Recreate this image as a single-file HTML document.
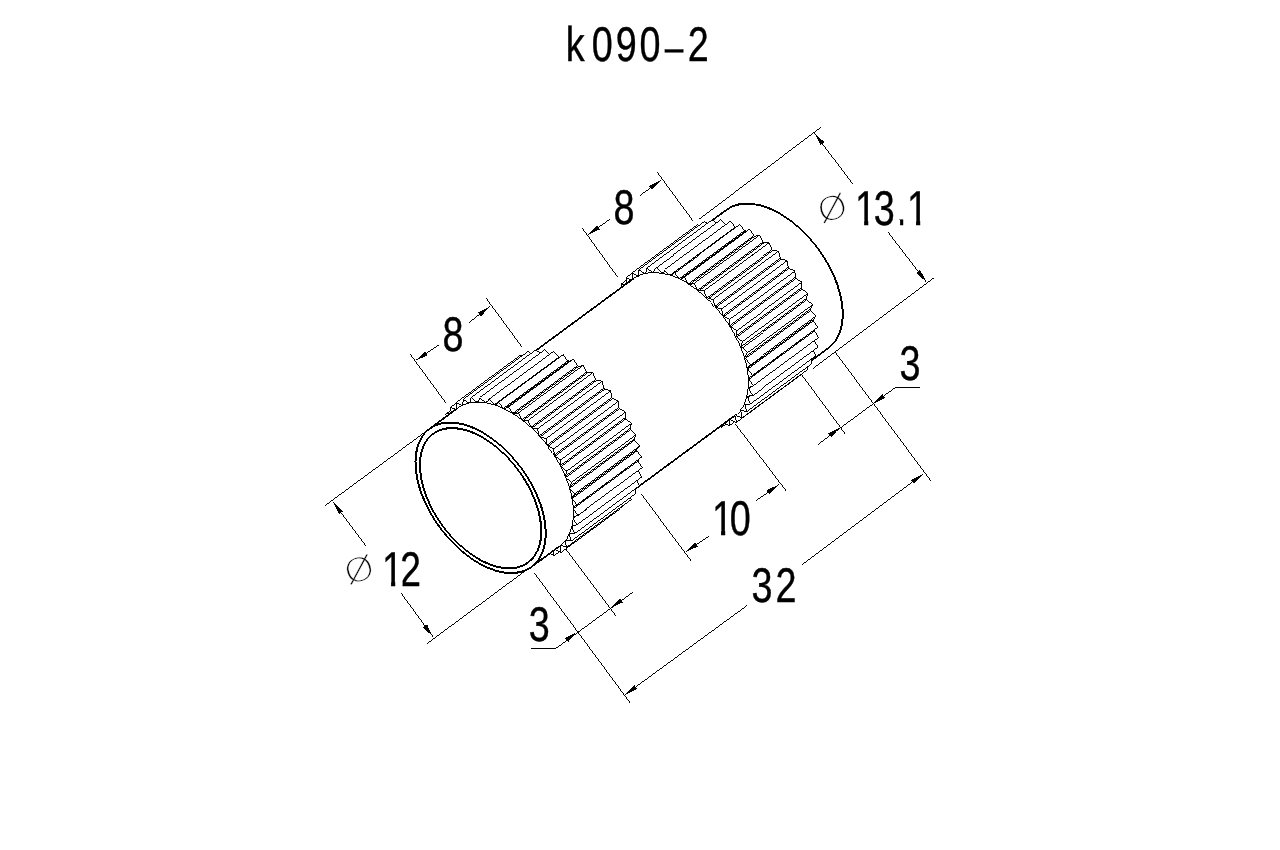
<!DOCTYPE html>
<html lang="en">
<head>
<meta charset="utf-8">
<title>k090-2</title>
<style>
html,body{margin:0;padding:0;background:#fff;}
body{width:1280px;height:850px;overflow:hidden;}
svg{display:block;will-change:transform;}
svg path{shape-rendering:crispEdges;}
svg text{text-rendering:geometricPrecision;font-family:"Liberation Sans",sans-serif;font-size:48.7px;fill:#000;stroke:#000;stroke-width:0.4;}
svg text.dia{font-family:"DejaVu Sans Light","DejaVu Sans","Liberation Sans",sans-serif;stroke:#fff;stroke-width:0.3;}
#part path{fill:#fff;stroke:#000;stroke-width:0.999;}
#part path.f{stroke:none;}
#part path.s{fill:none;}
#dims path{fill:none;stroke:#000;stroke-width:0.999;}
#dims path.ah{fill:#000;stroke:none;}
</style>
</head>
<body>
<svg width="1280" height="850" viewBox="0 0 1280 850">
<rect width="1280" height="850" fill="#fff"/>
<g id="part">
<path class="f" d="M828.6,347.9 831.6,345.3 834.3,342.3 836.6,339 838.6,335.2 840.2,331.2 841.4,326.8 842.2,322.1 842.7,317.1 842.7,311.9 842.3,306.5 841.5,300.9 840.4,295.2 838.8,289.4 836.9,283.5 834.6,277.6 831.9,271.7 829,265.9 825.7,260.1 822.1,254.4 818.2,248.9 814.1,243.6 809.7,238.5 805.2,233.6 800.5,229 795.6,224.8 790.7,220.8 785.6,217.2 780.5,214 775.4,211.2 770.3,208.8 765.3,206.9 760.3,205.4 755.4,204.3 750.7,203.7 746.1,203.6 741.8,203.9 737.6,204.7 733.7,205.9 730.1,207.6 726.7,209.7 698.5,230.5 695.5,233.1 692.8,236.1 690.5,239.4 688.5,243.1 686.9,247.2 685.7,251.6 684.9,256.3 684.4,261.3 684.4,266.5 684.8,271.9 685.6,277.5 686.7,283.2 688.3,289 690.2,294.9 692.5,300.8 695.2,306.7 698.1,312.5 701.4,318.3 705,324 708.9,329.5 713,334.8 717.4,339.9 721.9,344.8 726.6,349.4 731.5,353.6 736.4,357.6 741.5,361.2 746.6,364.4 751.7,367.2 756.8,369.6 761.8,371.5 766.8,373 771.7,374.1 776.4,374.7 781,374.8 785.3,374.5 789.5,373.7 793.4,372.5 797,370.8 800.4,368.6Z"/>
<path class="s" d="M828.6,347.9 831.6,345.3" style="stroke-width:1.55"/>
<path class="s" d="M831.6,345.3 834.3,342.3" style="stroke-width:1.5"/>
<path class="s" d="M834.3,342.3 836.6,339" style="stroke-width:1.65"/>
<path class="s" d="M836.6,339 838.6,335.2" style="stroke-width:1.8"/>
<path class="s" d="M838.6,335.2 840.2,331.2" style="stroke-width:1.9"/>
<path class="s" d="M840.2,331.2 841.4,326.8" style="stroke-width:1.95"/>
<path class="s" d="M841.4,326.8 842.2,322.1 842.7,317.1 842.7,311.9 842.3,306.5 841.5,300.9 840.4,295.2" style="stroke-width:2"/>
<path class="s" d="M840.4,295.2 838.8,289.4" style="stroke-width:1.95"/>
<path class="s" d="M838.8,289.4 836.9,283.5 834.6,277.6" style="stroke-width:1.9"/>
<path class="s" d="M834.6,277.6 831.9,271.7" style="stroke-width:1.85"/>
<path class="s" d="M831.9,271.7 829,265.9" style="stroke-width:1.8"/>
<path class="s" d="M829,265.9 825.7,260.1" style="stroke-width:1.75"/>
<path class="s" d="M825.7,260.1 822.1,254.4" style="stroke-width:1.7"/>
<path class="s" d="M822.1,254.4 818.2,248.9" style="stroke-width:1.65"/>
<path class="s" d="M818.2,248.9 814.1,243.6" style="stroke-width:1.6"/>
<path class="s" d="M814.1,243.6 809.7,238.5" style="stroke-width:1.55"/>
<path class="s" d="M809.7,238.5 805.2,233.6" style="stroke-width:1.5"/>
<path class="s" d="M805.2,233.6 800.5,229" style="stroke-width:1.45"/>
<path class="s" d="M800.5,229 795.6,224.8" style="stroke-width:1.5"/>
<path class="s" d="M795.6,224.8 790.7,220.8" style="stroke-width:1.6"/>
<path class="s" d="M790.7,220.8 785.6,217.2" style="stroke-width:1.65"/>
<path class="s" d="M785.6,217.2 780.5,214" style="stroke-width:1.7"/>
<path class="s" d="M780.5,214 775.4,211.2" style="stroke-width:1.75"/>
<path class="s" d="M775.4,211.2 770.3,208.8" style="stroke-width:1.85"/>
<path class="s" d="M770.3,208.8 765.3,206.9" style="stroke-width:1.9"/>
<path class="s" d="M765.3,206.9 760.3,205.4 755.4,204.3" style="stroke-width:1.95"/>
<path class="s" d="M755.4,204.3 750.7,203.7 746.1,203.6 741.8,203.9 737.6,204.7" style="stroke-width:2"/>
<path class="s" d="M737.6,204.7 733.7,205.9" style="stroke-width:1.95"/>
<path class="s" d="M733.7,205.9 730.1,207.6" style="stroke-width:1.85"/>
<path class="s" d="M730.1,207.6 726.7,209.7" style="stroke-width:1.7"/>
<path class="s" d="M800.4,368.6 828.6,347.9" style="stroke-width:1.65"/>
<path class="s" d="M698.5,230.5 726.7,209.7" style="stroke-width:1.65"/>
<path d="M620.6,298.4 686,250.2 685.8,251.1 620.4,299.3Z"/>
<path d="M712.6,427.6 778,379.4 780,374.8 714.6,423Z"/>
<path d="M617.7,291.6 683.1,243.4 686,250.2 620.6,298.4Z"/>
<path d="M714.6,423 780,374.8 780.9,374.8 715.5,423Z"/>
<path d="M715.5,423 780.9,374.8 786.7,379.4 721.3,427.6Z"/>
<path d="M623,291.6 688.4,243.4 683.1,243.4 617.7,291.6Z"/>
<path d="M623.3,290.9 688.7,242.6 688.4,243.4 623,291.6Z"/>
<path d="M721.3,427.6 786.7,379.4 787.9,374.1 722.5,422.3Z"/>
<path d="M621.2,284 686.6,235.8 688.7,242.6 623.3,290.9Z"/>
<path d="M722.5,422.3 787.9,374.1 788.7,373.9 723.3,422.1Z"/>
<path d="M723.3,422.1 788.7,373.9 794.6,377.7 729.2,425.9Z"/>
<path d="M626.8,285.1 692.2,236.9 686.6,235.8 621.2,284Z"/>
<path d="M627.3,284.4 692.7,236.2 692.2,236.9 626.8,285.1Z"/>
<path d="M729.2,425.9 794.6,377.7 794.9,371.8 729.6,420Z"/>
<path d="M626,277.8 691.4,229.6 692.7,236.2 627.3,284.4Z"/>
<path d="M729.6,420 794.9,371.8 795.7,371.5 730.3,419.7Z"/>
<path d="M730.3,419.7 795.7,371.5 801.6,374.4 736.2,422.6Z"/>
<path d="M631.8,279.8 697.2,231.6 691.4,229.6 626,277.8Z"/>
<path d="M632.4,279.3 697.8,231.1 697.2,231.6 631.8,279.8Z"/>
<path d="M736.2,422.6 801.6,374.4 801.1,368.1 735.7,416.3Z"/>
<path d="M631.9,273 697.3,224.8 697.8,231.1 632.4,279.3Z"/>
<path d="M735.7,416.3 801.1,368.1 801.7,367.6 736.3,415.8Z"/>
<path d="M736.3,415.8 801.7,367.6 807.5,369.6 742.1,417.8Z"/>
<path d="M637.8,275.9 703.2,227.7 697.3,224.8 631.9,273Z"/>
<path d="M638.6,275.6 704,227.4 703.2,227.7 637.8,275.9Z"/>
<path d="M742.1,417.8 807.5,369.6 806.2,363 740.8,411.2Z"/>
<path d="M638.9,269.7 704.3,221.5 704,227.4 638.6,275.6Z"/>
<path d="M740.8,411.2 806.2,363 806.7,362.3 741.3,410.5Z"/>
<path d="M741.3,410.5 806.7,362.3 812.3,363.3 746.9,411.5Z"/>
<path d="M644.8,273.5 710.2,225.3 704.3,221.5 638.9,269.7Z"/>
<path d="M645.7,273.3 711,225.1 710.2,225.3 644.8,273.5Z"/>
<path d="M746.9,411.5 812.3,363.3 810.2,356.5 744.8,404.7Z"/>
<path d="M646.8,268 712.2,219.8 711,225.1 645.7,273.3Z"/>
<path d="M744.8,404.7 810.2,356.5 810.5,355.8 745.1,404Z"/>
<path d="M745.1,404 810.5,355.8 815.8,355.8 750.4,404Z"/>
<path d="M652.6,272.6 718,224.3 712.2,219.8 646.8,268Z"/>
<path d="M653.5,272.5 718.9,224.3 718,224.3 652.6,272.6Z"/>
<path d="M750.4,404 815.8,355.8 812.9,349 747.5,397.2Z"/>
<path d="M655.5,267.9 720.9,219.7 718.9,224.3 653.5,272.5Z"/>
<path d="M747.5,397.2 812.9,349 813.1,348.1 747.7,396.3Z"/>
<path d="M747.7,396.3 813.1,348.1 817.9,347.1 752.5,395.3Z"/>
<path d="M661.1,273.2 726.4,225 720.9,219.7 655.5,267.9Z"/>
<path d="M662,273.3 727.4,225.1 726.4,225 661.1,273.2Z"/>
<path d="M752.5,395.3 817.9,347.1 814.3,340.4 748.9,388.6Z"/>
<path d="M664.8,269.5 730.2,221.3 727.4,225.1 662,273.3Z"/>
<path d="M748.9,388.6 814.3,340.4 814.4,339.4 749,387.6Z"/>
<path d="M749,387.6 814.4,339.4 818.6,337.5 753.3,385.7Z"/>
<path d="M669.9,275.3 735.3,227.1 730.2,221.3 664.8,269.5Z"/>
<path d="M670.9,275.6 736.3,227.4 735.3,227.1 669.9,275.3Z"/>
<path d="M753.3,385.7 818.6,337.5 814.4,331 749,379.2Z"/>
<path d="M674.5,272.6 739.8,224.4 736.3,227.4 670.9,275.6Z"/>
<path d="M749,379.2 814.4,331 814.3,329.9 749,378.1Z"/>
<path d="M749,378.1 814.3,329.9 818,327.1 752.6,375.3Z"/>
<path d="M679.1,278.9 744.5,230.7 739.8,224.4 674.5,272.6Z"/>
<path d="M680.2,279.4 745.5,231.2 744.5,230.7 679.1,278.9Z"/>
<path d="M752.6,375.3 818,327.1 813.2,320.9 747.8,369.1Z"/>
<path d="M684.3,277.3 749.7,229.1 745.5,231.2 680.2,279.4Z"/>
<path d="M747.8,369.1 813.2,320.9 813,319.8 747.6,368Z"/>
<path d="M747.6,368 813,319.8 815.9,316.1 750.5,364.3Z"/>
<path d="M688.4,283.9 753.8,235.7 749.7,229.1 684.3,277.3Z"/>
<path d="M689.4,284.6 754.8,236.3 753.8,235.7 688.4,283.9Z"/>
<path d="M750.5,364.3 815.9,316.1 810.7,310.4 745.3,358.6Z"/>
<path d="M694.1,283.4 759.5,235.2 754.8,236.3 689.4,284.6Z"/>
<path d="M745.3,358.6 810.7,310.4 810.3,309.2 744.9,357.4Z"/>
<path d="M744.9,357.4 810.3,309.2 812.5,304.8 747.1,353Z"/>
<path d="M697.6,290.2 763,242 759.5,235.2 694.1,283.4Z"/>
<path d="M698.6,291 764,242.8 763,242 697.6,290.2Z"/>
<path d="M747.1,353 812.5,304.8 806.9,299.7 741.5,347.9Z"/>
<path d="M703.8,290.9 769.2,242.7 764,242.8 698.6,291Z"/>
<path d="M741.5,347.9 806.9,299.7 806.4,298.5 741,346.7Z"/>
<path d="M741,346.7 806.4,298.5 807.8,293.4 742.4,341.6Z"/>
<path d="M706.5,297.7 771.9,249.5 769.2,242.7 703.8,290.9Z"/>
<path d="M707.5,298.6 772.9,250.4 771.9,249.5 706.5,297.7Z"/>
<path d="M742.4,341.6 807.8,293.4 802,289 736.6,337.2Z"/>
<path d="M713,299.4 778.4,251.2 772.9,250.4 707.5,298.6Z"/>
<path d="M736.6,337.2 802,289 801.4,287.8 736,336Z"/>
<path d="M736,336 801.4,287.8 801.9,282.1 736.5,330.3Z"/>
<path d="M715,306.2 780.4,258 778.4,251.2 713,299.4Z"/>
<path d="M715.9,307.2 781.3,259 780.4,258 715,306.2Z"/>
<path d="M736.5,330.3 801.9,282.1 796,278.5 730.6,326.7Z"/>
<path d="M721.7,309 787.1,260.8 781.3,259 715.9,307.2Z"/>
<path d="M730.6,326.7 796,278.5 795.3,277.4 729.9,325.6Z"/>
<path d="M729.9,325.6 795.3,277.4 794.9,271.1 729.6,319.4Z"/>
<path d="M722.8,315.6 788.2,267.4 787.1,260.8 721.7,309Z"/>
<path d="M723.7,316.6 789,268.4 788.2,267.4 722.8,315.6Z"/>
<path d="M729.6,319.4 794.9,271.1 789,268.4 723.7,316.6Z"/>
<path d="M721.7,309 715.9,307.2 715,306.2 713,299.4 707.5,298.6 706.5,297.7 703.8,290.9 698.6,291 697.6,290.2 694.1,283.4 689.4,284.6 688.4,283.9 684.3,277.3 680.2,279.4 679.1,278.9 674.5,272.6 670.9,275.6 669.9,275.3 664.8,269.5 662,273.3 661.1,273.2 655.5,267.9 653.5,272.5 652.6,272.6 646.8,268 645.7,273.3 644.8,273.5 638.9,269.7 638.6,275.6 637.8,275.9 631.9,273 632.4,279.3 631.8,279.8 626,277.8 627.3,284.4 626.8,285.1 621.2,284 623.3,290.9 623,291.6 617.7,291.6 620.6,298.4 620.4,299.3 615.6,300.3 619.2,307 619.1,308 614.9,309.9 619.1,316.4 619.2,317.5 615.5,320.3 620.3,326.5 620.5,327.6 617.6,331.3 622.8,337 623.2,338.1 621,342.6 626.6,347.7 627.1,348.9 625.7,354 631.5,358.4 632.1,359.6 631.6,365.3 637.5,368.9 638.2,370 638.6,376.2 644.5,379 645.3,380 646.4,386.6 652.2,388.4 653.1,389.4 655.1,396.2 660.6,397 661.6,397.9 664.3,404.7 669.5,404.6 670.5,405.4 674,412.2 678.7,411 679.7,411.7 683.8,418.3 688,416.2 689,416.7 693.7,422.9 697.2,420 698.2,420.3 703.3,426.1 706.1,422.3 707.1,422.4 712.6,427.6 714.6,423 715.5,423 721.3,427.6 722.5,422.3 723.3,422.1 729.2,425.9 729.6,420 730.3,419.7 736.2,422.6 735.7,416.3 736.3,415.8 742.1,417.8 740.8,411.2 741.3,410.5 746.9,411.5 744.8,404.7 745.1,404 750.4,404 747.5,397.2 747.7,396.3 752.5,395.3 748.9,388.6 749,387.6 753.3,385.7 749,379.2 749,378.1 752.6,375.3 747.8,369.1 747.6,368 750.5,364.3 745.3,358.6 744.9,357.4 747.1,353 741.5,347.9 741,346.7 742.4,341.6 736.6,337.2 736,336 736.5,330.3 730.6,326.7 729.9,325.6 729.6,319.4 723.7,316.6 722.8,315.6Z"/>
<path class="f" d="M734.3,416 737.3,413.5 740,410.5 742.3,407.2 744.3,403.5 745.9,399.4 747.1,395 747.9,390.4 748.3,385.4 748.4,380.3 748,374.9 747.2,369.4 746.1,363.7 744.5,357.9 742.6,352.1 740.3,346.2 737.7,340.4 734.7,334.5 731.4,328.8 727.9,323.2 724,317.7 719.9,312.4 715.6,307.3 711.1,302.5 706.4,298 701.6,293.7 696.7,289.8 691.7,286.2 686.6,283.1 681.5,280.3 676.5,277.9 671.5,275.9 666.5,274.4 661.7,273.4 657,272.8 652.4,272.7 648.1,273 644,273.8 640.1,275 636.5,276.7 633.2,278.8 522.2,360.6 519.2,363.2 516.5,366.1 514.2,369.4 512.2,373.1 510.6,377.2 509.4,381.6 508.6,386.2 508.2,391.2 508.2,396.3 508.5,401.7 509.3,407.2 510.5,412.9 512,418.7 513.9,424.5 516.2,430.4 518.9,436.3 521.8,442.1 525.1,447.8 528.7,453.4 532.5,458.9 536.6,464.2 540.9,469.3 545.4,474.1 550.1,478.6 554.9,482.9 559.9,486.8 564.9,490.4 569.9,493.6 575,496.3 580.1,498.7 585.1,500.7 590,502.2 594.9,503.2 599.6,503.8 604.1,504 608.4,503.6 612.6,502.8 616.4,501.6 620,499.9 623.4,497.8Z"/>
<path class="s" d="M734.3,416 737.3,413.5 740,410.5 742.3,407.2 744.3,403.5 745.9,399.4 747.1,395 747.9,390.4 748.3,385.4 748.4,380.3 748,374.9 747.2,369.4 746.1,363.7 744.5,357.9 742.6,352.1 740.3,346.2 737.7,340.4 734.7,334.5 731.4,328.8 727.9,323.2 724,317.7 719.9,312.4 715.6,307.3 711.1,302.5 706.4,298 701.6,293.7 696.7,289.8 691.7,286.2 686.6,283.1 681.5,280.3 676.5,277.9 671.5,275.9 666.5,274.4 661.7,273.4 657,272.8 652.4,272.7 648.1,273 644,273.8 640.1,275 636.5,276.7 633.2,278.8"/>
<path class="s" d="M623.4,497.8 734.3,416" style="stroke-width:1.65"/>
<path class="s" d="M522.2,360.6 633.2,278.8" style="stroke-width:1.65"/>
<path d="M444.9,428 509.6,380.3 509.4,381.2 444.7,428.9Z"/>
<path d="M536.9,557.2 601.6,509.5 603.6,504.9 538.9,552.6Z"/>
<path d="M442,421.1 506.7,373.4 509.6,380.3 444.9,428Z"/>
<path d="M538.9,552.6 603.6,504.9 604.5,504.9 539.8,552.6Z"/>
<path d="M539.8,552.6 604.5,504.9 610.3,509.4 545.6,557.1Z"/>
<path d="M447.3,421.2 512,373.5 506.7,373.4 442,421.1Z"/>
<path d="M447.6,420.4 512.4,372.7 512,373.5 447.3,421.2Z"/>
<path d="M545.6,557.1 610.3,509.4 611.5,504.1 546.8,551.8Z"/>
<path d="M445.5,413.6 510.2,365.9 512.4,372.7 447.6,420.4Z"/>
<path d="M546.8,551.8 611.5,504.1 612.3,503.9 547.6,551.7Z"/>
<path d="M547.6,551.7 612.3,503.9 618.2,507.7 553.5,555.4Z"/>
<path d="M451.1,414.6 515.8,366.9 510.2,365.9 445.5,413.6Z"/>
<path d="M451.6,414 516.3,366.3 515.8,366.9 451.1,414.6Z"/>
<path d="M553.5,555.4 618.2,507.7 618.6,501.8 553.8,549.6Z"/>
<path d="M450.3,407.4 515,359.6 516.3,366.3 451.6,414Z"/>
<path d="M553.8,549.6 618.6,501.8 619.3,501.5 554.6,549.2Z"/>
<path d="M554.6,549.2 619.3,501.5 625.2,504.4 560.5,552.1Z"/>
<path d="M456.1,409.3 520.8,361.6 515,359.6 450.3,407.4Z"/>
<path d="M456.7,408.8 521.4,361.1 520.8,361.6 456.1,409.3Z"/>
<path d="M560.5,552.1 625.2,504.4 624.7,498.1 560,545.8Z"/>
<path d="M456.2,402.6 520.9,354.8 521.4,361.1 456.7,408.8Z"/>
<path d="M560,545.8 624.7,498.1 625.4,497.6 560.6,545.3Z"/>
<path d="M560.6,545.3 625.4,497.6 631.2,499.6 566.4,547.3Z"/>
<path d="M462.1,405.5 526.9,357.7 520.9,354.8 456.2,402.6Z"/>
<path d="M462.8,405.1 527.6,357.4 526.9,357.7 462.1,405.5Z"/>
<path d="M566.4,547.3 631.2,499.6 629.8,493 565.1,540.7Z"/>
<path d="M463.2,399.3 527.9,351.5 527.6,357.4 462.8,405.1Z"/>
<path d="M565.1,540.7 629.8,493 630.3,492.3 565.6,540.1Z"/>
<path d="M565.6,540.1 630.3,492.3 635.9,493.4 571.2,541.1Z"/>
<path d="M469.1,403 533.9,355.3 527.9,351.5 463.2,399.3Z"/>
<path d="M469.9,402.8 534.7,355.1 533.9,355.3 469.1,403Z"/>
<path d="M571.2,541.1 635.9,493.4 633.8,486.6 569.1,534.3Z"/>
<path d="M471.1,397.6 535.9,349.8 534.7,355.1 469.9,402.8Z"/>
<path d="M569.1,534.3 633.8,486.6 634.2,485.8 569.4,533.5Z"/>
<path d="M569.4,533.5 634.2,485.8 639.4,485.8 574.7,533.6Z"/>
<path d="M476.9,402.1 541.6,354.4 535.9,349.8 471.1,397.6Z"/>
<path d="M477.8,402.1 542.5,354.4 541.6,354.4 476.9,402.1Z"/>
<path d="M574.7,533.6 639.4,485.8 636.5,479 571.8,526.7Z"/>
<path d="M479.8,397.5 544.6,349.8 542.5,354.4 477.8,402.1Z"/>
<path d="M571.8,526.7 636.5,479 636.7,478.1 572,525.8Z"/>
<path d="M572,525.8 636.7,478.1 641.5,477.2 576.8,524.9Z"/>
<path d="M485.3,402.7 550.1,355 544.6,349.8 479.8,397.5Z"/>
<path d="M486.3,402.9 551,355.1 550.1,355 485.3,402.7Z"/>
<path d="M576.8,524.9 641.5,477.2 637.9,470.4 573.2,518.1Z"/>
<path d="M489.1,399.1 553.8,351.3 551,355.1 486.3,402.9Z"/>
<path d="M573.2,518.1 637.9,470.4 638,469.4 573.3,517.1Z"/>
<path d="M573.3,517.1 638,469.4 642.3,467.5 577.5,515.2Z"/>
<path d="M494.2,404.8 559,357.1 553.8,351.3 489.1,399.1Z"/>
<path d="M495.2,405.2 560,357.4 559,357.1 494.2,404.8Z"/>
<path d="M577.5,515.2 642.3,467.5 638,461 573.3,508.7Z"/>
<path d="M498.7,402.2 563.5,354.5 560,357.4 495.2,405.2Z"/>
<path d="M573.3,508.7 638,461 638,459.9 573.2,507.6Z"/>
<path d="M573.2,507.6 638,459.9 641.6,457.1 576.9,504.8Z"/>
<path d="M503.4,408.5 568.2,360.7 563.5,354.5 498.7,402.2Z"/>
<path d="M504.4,408.9 569.2,361.2 568.2,360.7 503.4,408.5Z"/>
<path d="M576.9,504.8 641.6,457.1 636.8,450.9 572.1,498.7Z"/>
<path d="M508.6,406.9 573.3,359.1 569.2,361.2 504.4,408.9Z"/>
<path d="M572.1,498.7 636.8,450.9 636.6,449.8 571.9,497.5Z"/>
<path d="M571.9,497.5 636.6,449.8 639.6,446.1 574.8,493.9Z"/>
<path d="M512.7,413.5 577.4,365.7 573.3,359.1 508.6,406.9Z"/>
<path d="M513.7,414.1 578.5,366.4 577.4,365.7 512.7,413.5Z"/>
<path d="M574.8,493.9 639.6,446.1 634.3,440.4 569.6,488.2Z"/>
<path d="M518.4,413 583.2,365.3 578.5,366.4 513.7,414.1Z"/>
<path d="M569.6,488.2 634.3,440.4 634,439.3 569.2,487Z"/>
<path d="M569.2,487 634,439.3 636.1,434.8 571.4,482.5Z"/>
<path d="M521.9,419.8 586.6,372.1 583.2,365.3 518.4,413Z"/>
<path d="M522.9,420.5 587.6,372.8 586.6,372.1 521.9,419.8Z"/>
<path d="M571.4,482.5 636.1,434.8 630.6,429.7 565.8,477.5Z"/>
<path d="M528.1,420.4 592.8,372.7 587.6,372.8 522.9,420.5Z"/>
<path d="M565.8,477.5 630.6,429.7 630.1,428.5 565.3,476.3Z"/>
<path d="M565.3,476.3 630.1,428.5 631.4,423.4 566.7,471.1Z"/>
<path d="M530.8,427.3 595.6,379.5 592.8,372.7 528.1,420.4Z"/>
<path d="M531.8,428.2 596.5,380.4 595.6,379.5 530.8,427.3Z"/>
<path d="M566.7,471.1 631.4,423.4 625.6,419 560.9,466.7Z"/>
<path d="M537.3,429 602,381.3 596.5,380.4 531.8,428.2Z"/>
<path d="M560.9,466.7 625.6,419 625,417.8 560.3,465.6Z"/>
<path d="M560.3,465.6 625,417.8 625.5,412.1 560.8,459.8Z"/>
<path d="M539.3,435.8 604,388 602,381.3 537.3,429Z"/>
<path d="M540.2,436.8 604.9,389 604,388 539.3,435.8Z"/>
<path d="M560.8,459.8 625.5,412.1 619.6,408.5 554.9,456.3Z"/>
<path d="M546,438.6 610.7,390.8 604.9,389 540.2,436.8Z"/>
<path d="M554.9,456.3 619.6,408.5 618.9,407.4 554.2,455.1Z"/>
<path d="M554.2,455.1 618.9,407.4 618.6,401.2 553.8,448.9Z"/>
<path d="M547.1,445.1 611.9,397.4 610.7,390.8 546,438.6Z"/>
<path d="M547.9,446.2 612.7,398.5 611.9,397.4 547.1,445.1Z"/>
<path d="M553.8,448.9 618.6,401.2 612.7,398.5 547.9,446.2Z"/>
<path d="M546,438.6 540.2,436.8 539.3,435.8 537.3,429 531.8,428.2 530.8,427.3 528.1,420.4 522.9,420.5 521.9,419.8 518.4,413 513.7,414.1 512.7,413.5 508.6,406.9 504.4,408.9 503.4,408.5 498.7,402.2 495.2,405.2 494.2,404.8 489.1,399.1 486.3,402.9 485.3,402.7 479.8,397.5 477.8,402.1 476.9,402.1 471.1,397.6 469.9,402.8 469.1,403 463.2,399.3 462.8,405.1 462.1,405.5 456.2,402.6 456.7,408.8 456.1,409.3 450.3,407.4 451.6,414 451.1,414.6 445.5,413.6 447.6,420.4 447.3,421.2 442,421.1 444.9,428 444.7,428.9 439.9,429.8 443.5,436.6 443.4,437.6 439.1,439.4 443.4,446 443.4,447.1 439.8,449.9 444.6,456 444.8,457.2 441.9,460.8 447.1,466.5 447.5,467.7 445.3,472.1 450.9,477.2 451.4,478.4 450,483.6 455.8,487.9 456.4,489.1 455.9,494.9 461.8,498.4 462.5,499.6 462.8,505.8 468.8,508.5 469.6,509.6 470.7,516.1 476.5,517.9 477.4,518.9 479.4,525.7 484.9,526.5 485.9,527.4 488.6,534.3 493.8,534.1 494.8,534.9 498.3,541.7 503,540.6 504,541.2 508.1,547.8 512.3,545.7 513.3,546.2 518,552.5 521.5,549.5 522.5,549.8 527.6,555.6 530.4,551.8 531.4,552 536.9,557.2 538.9,552.6 539.8,552.6 545.6,557.1 546.8,551.8 547.6,551.7 553.5,555.4 553.8,549.6 554.6,549.2 560.5,552.1 560,545.8 560.6,545.3 566.4,547.3 565.1,540.7 565.6,540.1 571.2,541.1 569.1,534.3 569.4,533.5 574.7,533.6 571.8,526.7 572,525.8 576.8,524.9 573.2,518.1 573.3,517.1 577.5,515.2 573.3,508.7 573.2,507.6 576.9,504.8 572.1,498.7 571.9,497.5 574.8,493.9 569.6,488.2 569.2,487 571.4,482.5 565.8,477.5 565.3,476.3 566.7,471.1 560.9,466.7 560.3,465.6 560.8,459.8 554.9,456.3 554.2,455.1 553.8,448.9 547.9,446.2 547.1,445.1Z"/>
<path class="f" d="M559.3,546.4 562.3,543.8 565,540.9 567.3,537.5 569.3,533.8 570.9,529.7 572.1,525.3 572.9,520.6 573.4,515.6 573.4,510.4 573,505 572.2,499.5 571.1,493.8 569.5,487.9 567.6,482.1 565.3,476.2 562.6,470.3 559.6,464.4 556.3,458.6 552.8,453 548.9,447.5 544.8,442.1 540.4,437 535.9,432.2 531.2,427.6 526.3,423.3 521.3,419.4 516.3,415.8 511.2,412.6 506.1,409.8 501,407.4 496,405.4 491,403.9 486.1,402.8 481.4,402.2 476.8,402.1 472.4,402.4 468.3,403.2 464.4,404.5 460.8,406.2 457.4,408.3 429.7,428.7 426.7,431.3 424,434.3 421.6,437.6 419.6,441.4 418,445.4 416.8,449.8 416,454.5 415.6,459.5 415.6,464.7 415.9,470.1 416.7,475.7 417.9,481.4 419.4,487.2 421.4,493.1 423.7,499 426.3,504.9 429.3,510.7 432.6,516.5 436.2,522.2 440.1,527.7 444.2,533 448.5,538.1 453.1,543 457.8,547.6 462.6,551.8 467.6,555.8 472.6,559.4 477.7,562.6 482.8,565.4 487.9,567.8 493,569.7 498,571.2 502.8,572.3 507.6,572.9 512.1,573 516.5,572.7 520.6,571.9 524.5,570.7 528.2,569 531.5,566.9Z"/>
<path class="s" d="M559.3,546.4 562.3,543.8 565,540.9 567.3,537.5 569.3,533.8 570.9,529.7 572.1,525.3 572.9,520.6 573.4,515.6 573.4,510.4 573,505 572.2,499.5 571.1,493.8 569.5,487.9 567.6,482.1 565.3,476.2 562.6,470.3 559.6,464.4 556.3,458.6 552.8,453 548.9,447.5 544.8,442.1 540.4,437 535.9,432.2 531.2,427.6 526.3,423.3 521.3,419.4 516.3,415.8 511.2,412.6 506.1,409.8 501,407.4 496,405.4 491,403.9 486.1,402.8 481.4,402.2 476.8,402.1 472.4,402.4 468.3,403.2 464.4,404.5 460.8,406.2 457.4,408.3"/>
<path class="s" d="M531.5,566.9 559.3,546.4" style="stroke-width:1.65"/>
<path class="s" d="M429.7,428.7 457.4,408.3" style="stroke-width:1.65"/>
<path class="f" d="M531.5,566.9 534.1,564.8 536.4,562.4 538.4,559.7 540.3,556.8 541.8,553.6 543.2,550.2 544.2,546.5 545,542.7 545.5,538.6 545.7,534.4 545.6,530 545.3,525.5 544.6,520.9 543.8,516.1 542.6,511.3 541.2,506.4 539.5,501.5 537.5,496.6 535.4,491.7 532.9,486.8 530.3,482 527.4,477.2 524.4,472.5 521.1,467.9 517.7,463.5 514.1,459.2 510.4,455 506.6,451.1 502.6,447.3 498.6,443.8 494.4,440.5 490.2,437.4 486,434.6 481.8,432 477.5,429.8 473.3,427.8 469,426.2 464.9,424.8 460.8,423.8 456.8,423 452.9,422.6 449.1,422.6 445.4,422.8 441.9,423.4 438.6,424.2 435.4,425.4 432.4,426.9 429.7,428.7 427.1,430.8 424.8,433.2 422.8,435.9 420.9,438.8 419.4,442 418,445.4 417,449.1 416.2,452.9 415.7,457 415.5,461.2 415.6,465.6 415.9,470.1 416.6,474.7 417.4,479.5 418.6,484.3 420,489.2 421.7,494.1 423.7,499 425.8,503.9 428.3,508.8 430.9,513.6 433.8,518.4 436.8,523.1 440.1,527.7 443.5,532.1 447.1,536.4 450.8,540.6 454.6,544.5 458.6,548.3 462.6,551.8 466.8,555.1 471,558.2 475.2,561 479.4,563.6 483.7,565.8 487.9,567.8 492.2,569.4 496.3,570.8 500.4,571.8 504.4,572.6 508.3,573 512.1,573 515.8,572.8 519.3,572.2 522.6,571.4 525.8,570.2 528.8,568.7Z"/>
<path class="s" d="M531.5,566.9 534.1,564.8" style="stroke-width:1.55"/>
<path class="s" d="M534.1,564.8 536.4,562.4" style="stroke-width:1.45"/>
<path class="s" d="M536.4,562.4 538.4,559.7" style="stroke-width:1.6"/>
<path class="s" d="M538.4,559.7 540.3,556.8" style="stroke-width:1.7"/>
<path class="s" d="M540.3,556.8 541.8,553.6" style="stroke-width:1.8"/>
<path class="s" d="M541.8,553.6 543.2,550.2" style="stroke-width:1.9"/>
<path class="s" d="M543.2,550.2 544.2,546.5" style="stroke-width:1.95"/>
<path class="s" d="M544.2,546.5 545,542.7 545.5,538.6 545.7,534.4 545.6,530 545.3,525.5 544.6,520.9 543.8,516.1" style="stroke-width:2"/>
<path class="s" d="M543.8,516.1 542.6,511.3 541.2,506.4" style="stroke-width:1.95"/>
<path class="s" d="M541.2,506.4 539.5,501.5 537.5,496.6" style="stroke-width:1.9"/>
<path class="s" d="M537.5,496.6 535.4,491.7" style="stroke-width:1.85"/>
<path class="s" d="M535.4,491.7 532.9,486.8 530.3,482" style="stroke-width:1.8"/>
<path class="s" d="M530.3,482 527.4,477.2" style="stroke-width:1.75"/>
<path class="s" d="M527.4,477.2 524.4,472.5" style="stroke-width:1.7"/>
<path class="s" d="M524.4,472.5 521.1,467.9" style="stroke-width:1.65"/>
<path class="s" d="M521.1,467.9 517.7,463.5" style="stroke-width:1.6"/>
<path class="s" d="M517.7,463.5 514.1,459.2" style="stroke-width:1.55"/>
<path class="s" d="M514.1,459.2 510.4,455" style="stroke-width:1.5"/>
<path class="s" d="M510.4,455 506.6,451.1 502.6,447.3" style="stroke-width:1.45"/>
<path class="s" d="M502.6,447.3 498.6,443.8" style="stroke-width:1.55"/>
<path class="s" d="M498.6,443.8 494.4,440.5" style="stroke-width:1.6"/>
<path class="s" d="M494.4,440.5 490.2,437.4" style="stroke-width:1.65"/>
<path class="s" d="M490.2,437.4 486,434.6" style="stroke-width:1.7"/>
<path class="s" d="M486,434.6 481.8,432" style="stroke-width:1.75"/>
<path class="s" d="M481.8,432 477.5,429.8" style="stroke-width:1.8"/>
<path class="s" d="M477.5,429.8 473.3,427.8" style="stroke-width:1.85"/>
<path class="s" d="M473.3,427.8 469,426.2 464.9,424.8" style="stroke-width:1.9"/>
<path class="s" d="M464.9,424.8 460.8,423.8" style="stroke-width:1.95"/>
<path class="s" d="M460.8,423.8 456.8,423 452.9,422.6 449.1,422.6 445.4,422.8 441.9,423.4" style="stroke-width:2"/>
<path class="s" d="M441.9,423.4 438.6,424.2" style="stroke-width:1.95"/>
<path class="s" d="M438.6,424.2 435.4,425.4" style="stroke-width:1.9"/>
<path class="s" d="M435.4,425.4 432.4,426.9" style="stroke-width:1.8"/>
<path class="s" d="M432.4,426.9 429.7,428.7" style="stroke-width:1.7"/>
<path class="s" d="M429.7,428.7 427.1,430.8" style="stroke-width:1.55"/>
<path class="s" d="M427.1,430.8 424.8,433.2" style="stroke-width:1.45"/>
<path class="s" d="M424.8,433.2 422.8,435.9" style="stroke-width:1.6"/>
<path class="s" d="M422.8,435.9 420.9,438.8" style="stroke-width:1.7"/>
<path class="s" d="M420.9,438.8 419.4,442" style="stroke-width:1.8"/>
<path class="s" d="M419.4,442 418,445.4" style="stroke-width:1.9"/>
<path class="s" d="M418,445.4 417,449.1" style="stroke-width:1.95"/>
<path class="s" d="M417,449.1 416.2,452.9 415.7,457 415.5,461.2 415.6,465.6 415.9,470.1 416.6,474.7 417.4,479.5" style="stroke-width:2"/>
<path class="s" d="M417.4,479.5 418.6,484.3 420,489.2" style="stroke-width:1.95"/>
<path class="s" d="M420,489.2 421.7,494.1 423.7,499" style="stroke-width:1.9"/>
<path class="s" d="M423.7,499 425.8,503.9" style="stroke-width:1.85"/>
<path class="s" d="M425.8,503.9 428.3,508.8 430.9,513.6" style="stroke-width:1.8"/>
<path class="s" d="M430.9,513.6 433.8,518.4" style="stroke-width:1.75"/>
<path class="s" d="M433.8,518.4 436.8,523.1" style="stroke-width:1.7"/>
<path class="s" d="M436.8,523.1 440.1,527.7" style="stroke-width:1.65"/>
<path class="s" d="M440.1,527.7 443.5,532.1" style="stroke-width:1.6"/>
<path class="s" d="M443.5,532.1 447.1,536.4" style="stroke-width:1.55"/>
<path class="s" d="M447.1,536.4 450.8,540.6" style="stroke-width:1.5"/>
<path class="s" d="M450.8,540.6 454.6,544.5 458.6,548.3" style="stroke-width:1.45"/>
<path class="s" d="M458.6,548.3 462.6,551.8" style="stroke-width:1.55"/>
<path class="s" d="M462.6,551.8 466.8,555.1" style="stroke-width:1.6"/>
<path class="s" d="M466.8,555.1 471,558.2" style="stroke-width:1.65"/>
<path class="s" d="M471,558.2 475.2,561" style="stroke-width:1.7"/>
<path class="s" d="M475.2,561 479.4,563.6" style="stroke-width:1.75"/>
<path class="s" d="M479.4,563.6 483.7,565.8" style="stroke-width:1.8"/>
<path class="s" d="M483.7,565.8 487.9,567.8" style="stroke-width:1.85"/>
<path class="s" d="M487.9,567.8 492.2,569.4 496.3,570.8" style="stroke-width:1.9"/>
<path class="s" d="M496.3,570.8 500.4,571.8" style="stroke-width:1.95"/>
<path class="s" d="M500.4,571.8 504.4,572.6 508.3,573 512.1,573 515.8,572.8 519.3,572.2" style="stroke-width:2"/>
<path class="s" d="M519.3,572.2 522.6,571.4" style="stroke-width:1.95"/>
<path class="s" d="M522.6,571.4 525.8,570.2" style="stroke-width:1.9"/>
<path class="s" d="M525.8,570.2 528.8,568.7" style="stroke-width:1.8"/>
<path class="s" d="M528.8,568.7 531.5,566.9" style="stroke-width:1.7"/>
<path class="s" d="M528,562.5 530.4,560.6" style="stroke-width:1.55"/>
<path class="s" d="M530.4,560.6 532.6,558.4" style="stroke-width:1.45"/>
<path class="s" d="M532.6,558.4 534.5,555.9" style="stroke-width:1.6"/>
<path class="s" d="M534.5,555.9 536.2,553.1" style="stroke-width:1.7"/>
<path class="s" d="M536.2,553.1 537.7,550.2" style="stroke-width:1.8"/>
<path class="s" d="M537.7,550.2 538.9,547" style="stroke-width:1.9"/>
<path class="s" d="M538.9,547 539.8,543.6" style="stroke-width:1.95"/>
<path class="s" d="M539.8,543.6 540.6,540 541,536.2 541.2,532.3 541.2,528.2 540.8,524 540.3,519.7 539.4,515.3" style="stroke-width:2"/>
<path class="s" d="M539.4,515.3 538.4,510.8 537,506.3" style="stroke-width:1.95"/>
<path class="s" d="M537,506.3 535.5,501.7 533.6,497.1" style="stroke-width:1.9"/>
<path class="s" d="M533.6,497.1 531.6,492.5" style="stroke-width:1.85"/>
<path class="s" d="M531.6,492.5 529.4,488 526.9,483.4" style="stroke-width:1.8"/>
<path class="s" d="M526.9,483.4 524.2,479" style="stroke-width:1.75"/>
<path class="s" d="M524.2,479 521.4,474.6" style="stroke-width:1.7"/>
<path class="s" d="M521.4,474.6 518.4,470.4" style="stroke-width:1.65"/>
<path class="s" d="M518.4,470.4 515.2,466.2" style="stroke-width:1.6"/>
<path class="s" d="M515.2,466.2 511.9,462.2" style="stroke-width:1.55"/>
<path class="s" d="M511.9,462.2 508.4,458.3" style="stroke-width:1.5"/>
<path class="s" d="M508.4,458.3 504.8,454.7 501.1,451.2" style="stroke-width:1.45"/>
<path class="s" d="M501.1,451.2 497.3,447.9" style="stroke-width:1.55"/>
<path class="s" d="M497.3,447.9 493.5,444.8" style="stroke-width:1.6"/>
<path class="s" d="M493.5,444.8 489.6,441.9" style="stroke-width:1.65"/>
<path class="s" d="M489.6,441.9 485.6,439.3" style="stroke-width:1.7"/>
<path class="s" d="M485.6,439.3 481.7,436.9" style="stroke-width:1.75"/>
<path class="s" d="M481.7,436.9 477.7,434.8" style="stroke-width:1.8"/>
<path class="s" d="M477.7,434.8 473.8,433" style="stroke-width:1.85"/>
<path class="s" d="M473.8,433 469.8,431.5 466,430.2" style="stroke-width:1.9"/>
<path class="s" d="M466,430.2 462.1,429.2" style="stroke-width:1.95"/>
<path class="s" d="M462.1,429.2 458.4,428.6 454.8,428.2 451.2,428.1 447.8,428.3 444.6,428.8" style="stroke-width:2"/>
<path class="s" d="M444.6,428.8 441.4,429.7" style="stroke-width:1.95"/>
<path class="s" d="M441.4,429.7 438.5,430.8" style="stroke-width:1.9"/>
<path class="s" d="M438.5,430.8 435.7,432.2" style="stroke-width:1.8"/>
<path class="s" d="M435.7,432.2 433.2,433.9" style="stroke-width:1.7"/>
<path class="s" d="M433.2,433.9 430.8,435.8" style="stroke-width:1.55"/>
<path class="s" d="M430.8,435.8 428.6,438" style="stroke-width:1.45"/>
<path class="s" d="M428.6,438 426.7,440.5" style="stroke-width:1.6"/>
<path class="s" d="M426.7,440.5 425,443.3" style="stroke-width:1.7"/>
<path class="s" d="M425,443.3 423.5,446.2" style="stroke-width:1.8"/>
<path class="s" d="M423.5,446.2 422.3,449.4" style="stroke-width:1.9"/>
<path class="s" d="M422.3,449.4 421.4,452.8" style="stroke-width:1.95"/>
<path class="s" d="M421.4,452.8 420.6,456.4 420.2,460.2 420,464.1 420,468.2 420.4,472.4 420.9,476.7 421.8,481.1" style="stroke-width:2"/>
<path class="s" d="M421.8,481.1 422.8,485.6 424.2,490.1" style="stroke-width:1.95"/>
<path class="s" d="M424.2,490.1 425.7,494.7 427.6,499.3" style="stroke-width:1.9"/>
<path class="s" d="M427.6,499.3 429.6,503.9" style="stroke-width:1.85"/>
<path class="s" d="M429.6,503.9 431.8,508.4 434.3,513" style="stroke-width:1.8"/>
<path class="s" d="M434.3,513 437,517.4" style="stroke-width:1.75"/>
<path class="s" d="M437,517.4 439.8,521.8" style="stroke-width:1.7"/>
<path class="s" d="M439.8,521.8 442.8,526" style="stroke-width:1.65"/>
<path class="s" d="M442.8,526 446,530.2" style="stroke-width:1.6"/>
<path class="s" d="M446,530.2 449.3,534.2" style="stroke-width:1.55"/>
<path class="s" d="M449.3,534.2 452.8,538.1" style="stroke-width:1.5"/>
<path class="s" d="M452.8,538.1 456.4,541.7 460.1,545.2" style="stroke-width:1.45"/>
<path class="s" d="M460.1,545.2 463.9,548.5" style="stroke-width:1.55"/>
<path class="s" d="M463.9,548.5 467.7,551.6" style="stroke-width:1.6"/>
<path class="s" d="M467.7,551.6 471.6,554.5" style="stroke-width:1.65"/>
<path class="s" d="M471.6,554.5 475.6,557.1" style="stroke-width:1.7"/>
<path class="s" d="M475.6,557.1 479.5,559.5" style="stroke-width:1.75"/>
<path class="s" d="M479.5,559.5 483.5,561.6" style="stroke-width:1.8"/>
<path class="s" d="M483.5,561.6 487.4,563.4" style="stroke-width:1.85"/>
<path class="s" d="M487.4,563.4 491.4,564.9 495.2,566.2" style="stroke-width:1.9"/>
<path class="s" d="M495.2,566.2 499.1,567.2" style="stroke-width:1.95"/>
<path class="s" d="M499.1,567.2 502.8,567.8 506.4,568.2 510,568.3 513.4,568.1 516.6,567.6" style="stroke-width:2"/>
<path class="s" d="M516.6,567.6 519.8,566.7" style="stroke-width:1.95"/>
<path class="s" d="M519.8,566.7 522.7,565.6" style="stroke-width:1.9"/>
<path class="s" d="M522.7,565.6 525.5,564.2" style="stroke-width:1.8"/>
<path class="s" d="M525.5,564.2 528,562.5" style="stroke-width:1.7"/>
</g>
<g id="dims">
<text transform="translate(0 61.1) scale(0.7750 1)" x="730 763.6 794.45 825.28" y="0">k090<tspan x="853.78" dy="0" font-size="38" textLength="31.73" lengthAdjust="spacingAndGlyphs">-</tspan><tspan x="887.37" dy="-0">2</tspan></text>
<path d="M410,354 L445.6,402.5"/>
<path d="M486,298.1 L521.9,346.9"/>
<path d="M415.6,360.6 L438.75,345"/>
<path class="ah" d="M415.6,360.6 L427.94,355.3 L425.15,351.15 Z"/>
<path d="M469,322.5 L490,306.25"/>
<path class="ah" d="M490,306.25 L478.03,312.35 L481.09,316.31 Z"/>
<text transform="translate(0 350.7) scale(0.7750 1)" x="571.1" y="0">8</text>
<path d="M582.25,228.1 L617.3,276.6"/>
<path d="M657.25,172.25 L692.75,220.6"/>
<path d="M587.75,235 L610,219.1"/>
<path class="ah" d="M587.75,235 L599.94,229.36 L597.04,225.29 Z"/>
<path d="M640,195.6 L661,180"/>
<path class="ah" d="M661,180 L648.91,185.86 L651.89,189.88 Z"/>
<text transform="translate(0 223.8) scale(0.7750 1)" x="791.61" y="0">8</text>
<path d="M699,219.3 L820.6,127.5"/>
<path d="M812.5,368.1 L933.75,277.25"/>
<path d="M814.4,133.1 L852.5,183.75"/>
<path class="ah" d="M814.4,133.1 L820.34,145.15 L824.33,142.15 Z"/>
<path d="M888.1,232.25 L926.25,281.9"/>
<path class="ah" d="M926.25,281.9 L920.19,269.91 L916.23,272.96 Z"/>
<text class="dia" transform="translate(832.1 207.8) rotate(-17.5) scale(1.2119 1) translate(-12.48 11.59)" x="0" y="0" style="font-size:31.79px">Ø</text>
<clipPath id="c1"><rect x="845.06" y="176.2" width="120.65" height="43.8"/><rect x="864.13" y="220" width="4.12" height="7.9"/><rect x="876" y="220" width="18.44" height="7.9"/><rect x="900.1" y="220" width="4.29" height="7.9"/><rect x="916.08" y="220" width="4.12" height="7.9"/></clipPath><g clip-path="url(#c1)"><text transform="translate(0 224.9) scale(0.7750 1)" x="1103.3 1127.34 1156 1170.33" y="0">13.1</text></g>
<path d="M801.9,375 L845.6,434.4"/>
<path d="M835,351.9 L930.6,480.6"/>
<path d="M818.1,444.4 L895.3,387.5"/><path d="M895.3,387.5 L920,387.5"/>
<path class="ah" d="M840.3,427.2 L828.33,433.31 L831.4,437.26 Z"/>
<path class="ah" d="M873.1,403.75 L885.19,397.89 L882.21,393.88 Z"/>
<text transform="translate(0 379.7) scale(0.7750 1)" x="1160.76" y="0">3</text>
<path d="M641.25,494 L690.9,560.6"/>
<path d="M735.6,424.4 L785.9,490.6"/>
<path d="M685.6,551.9 L708.75,536.25"/>
<path class="ah" d="M685.6,551.9 L697.94,546.58 L695.14,542.44 Z"/>
<path d="M756.25,500.6 L778.75,484.6"/>
<path class="ah" d="M778.75,484.6 L766.54,490.21 L769.44,494.29 Z"/>
<clipPath id="c2"><rect x="702.01" y="486.1" width="86.49" height="43.8"/><rect x="721.08" y="529.9" width="4.12" height="7.9"/><rect x="732.1" y="529.9" width="18.63" height="7.9"/></clipPath><g clip-path="url(#c2)"><text transform="translate(0 534.8) scale(0.7750 1)" x="918.72 941.66" y="0">10</text></g>
<path d="M534.4,573.1 L630,702.75"/>
<path d="M625,694.75 L746.9,605.6"/>
<path class="ah" d="M625,694.75 L637.13,688.98 L634.18,684.94 Z"/>
<path d="M802.25,564.6 L923.1,474"/>
<path class="ah" d="M923.1,474 L911.04,479.92 L914.04,483.92 Z"/>
<text transform="translate(0 602.1) scale(0.7750 1)" x="969.66 1000.66" y="0">32</text>
<path d="M565.6,548.75 L615.6,615.6"/>
<path d="M632.75,592.25 L555.9,648.4"/><path d="M555.9,648.4 L531.25,648.4"/>
<path class="ah" d="M610.6,608.1 L622.79,602.45 L619.88,598.39 Z"/>
<path class="ah" d="M576.9,631.9 L565,638.13 L568.1,642.05 Z"/>
<text transform="translate(0 640.7) scale(0.7750 1)" x="682.18" y="0">3</text>
<path d="M432,427 L325,505.6"/>
<path d="M427.25,643.5 L525,571"/>
<path d="M333.1,502.25 L365.6,545.6"/>
<path class="ah" d="M333.1,502.25 L339.02,514.31 L343.02,511.31 Z"/>
<path d="M401,593.1 L432.75,636.5"/>
<path class="ah" d="M432.75,636.5 L426.97,624.37 L422.94,627.32 Z"/>
<text class="dia" transform="translate(359 569.3) rotate(-17.5) scale(1.2119 1) translate(-12.48 11.59)" x="0" y="0" style="font-size:31.79px">Ø</text>
<clipPath id="c3"><rect x="372.01" y="537.6" width="86.61" height="43.8"/><rect x="391.08" y="581.4" width="4.12" height="7.9"/><rect x="402.6" y="581.4" width="17.87" height="7.9"/></clipPath><g clip-path="url(#c3)"><text transform="translate(0 586.3) scale(0.7750 1)" x="492.91 516.02" y="0">12</text></g>
</g>
</svg>
</body>
</html>
